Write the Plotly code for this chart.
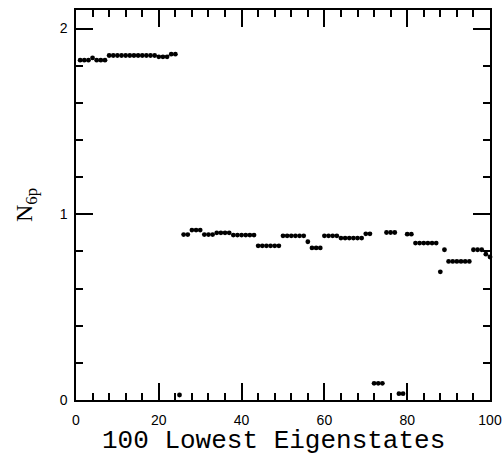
import plotly.graph_objects as go

# eigenstate index (1..100) and N_6p occupation
states = list(range(1, 101))
n6p = [
    1.830, 1.830, 1.830, 1.842, 1.830, 1.830, 1.830,
    1.855, 1.855, 1.855, 1.855, 1.855, 1.855, 1.855, 1.855, 1.855, 1.855, 1.855, 1.855,
    1.848, 1.848, 1.848,
    1.862, 1.862,
    0.027,
    0.891, 0.891,
    0.915, 0.915, 0.915,
    0.891, 0.891, 0.891,
    0.900, 0.900, 0.900, 0.900,
    0.888, 0.888, 0.888, 0.888, 0.888, 0.888,
    0.830, 0.830, 0.830, 0.830, 0.830, 0.830,
    0.884, 0.884, 0.884, 0.884, 0.884, 0.884,
    0.852,
    0.819, 0.819, 0.819,
    0.884, 0.884, 0.884, 0.884,
    0.872, 0.872, 0.872, 0.872, 0.872, 0.872,
    0.895, 0.895,
    0.090, 0.090, 0.090,
    0.902, 0.902, 0.902,
    0.034, 0.034,
    0.893, 0.893,
    0.845, 0.845, 0.845, 0.845, 0.845, 0.845,
    0.690,
    0.809,
    0.746, 0.746, 0.746, 0.746, 0.746, 0.746,
    0.809, 0.809, 0.809,
    0.785, 0.770,
]

x_ticks = [0, 20, 40, 60, 80, 100]
y_ticks = [0, 1, 2]
x_title = "100 Lowest Eigenstates"
y_title = "N<sub>6p</sub>"

fig = go.Figure()
fig.add_trace(go.Scatter(
    x=states, y=n6p, mode="markers",
    marker=dict(color="black", size=4.8),
    cliponaxis=False,
))

axis_common = dict(
    showgrid=False, zeroline=False, showline=True, linecolor="black", linewidth=1.5,
    mirror="ticks", ticks="inside", tickcolor="black", tickwidth=1.5, ticklen=17,
    tickfont=dict(family="Liberation Sans", size=14, color="black"),
    automargin=False,
)

fig.update_xaxes(
    range=[0, 100], tickvals=x_ticks, ticktext=[str(v) for v in x_ticks],
    minor=dict(dtick=4, ticks="inside", ticklen=7, tickcolor="black", tickwidth=1.5),
    ticklabelstandoff=6,
    **axis_common,
)
fig.update_yaxes(
    range=[0, 2.1], tickvals=y_ticks, ticktext=[str(v) for v in y_ticks],
    minor=dict(dtick=0.2, ticks="inside", ticklen=7, tickcolor="black", tickwidth=1.5),
    title=dict(text=y_title,
               font=dict(family="Liberation Serif", size=24, color="black"), standoff=20),
    ticklabelstandoff=4,
    **axis_common,
)

fig.add_annotation(
    text=x_title, xref="paper", yref="paper", x=0.478, y=-0.105,
    xanchor="center", yanchor="middle", showarrow=False,
    font=dict(family="Liberation Mono", size=26, color="black"),
)

fig.update_layout(
    width=504, height=463,
    margin=dict(l=76, r=14, t=10, b=63),
    plot_bgcolor="white", paper_bgcolor="white",
    showlegend=False,
)

# remove the default page margin so the figure fills the 504x463 window exactly
fig.write_html(
    "out.html",
    config={"displayModeBar": False},
    post_script="document.body.style.margin='0';document.body.style.overflow='hidden';",
)
